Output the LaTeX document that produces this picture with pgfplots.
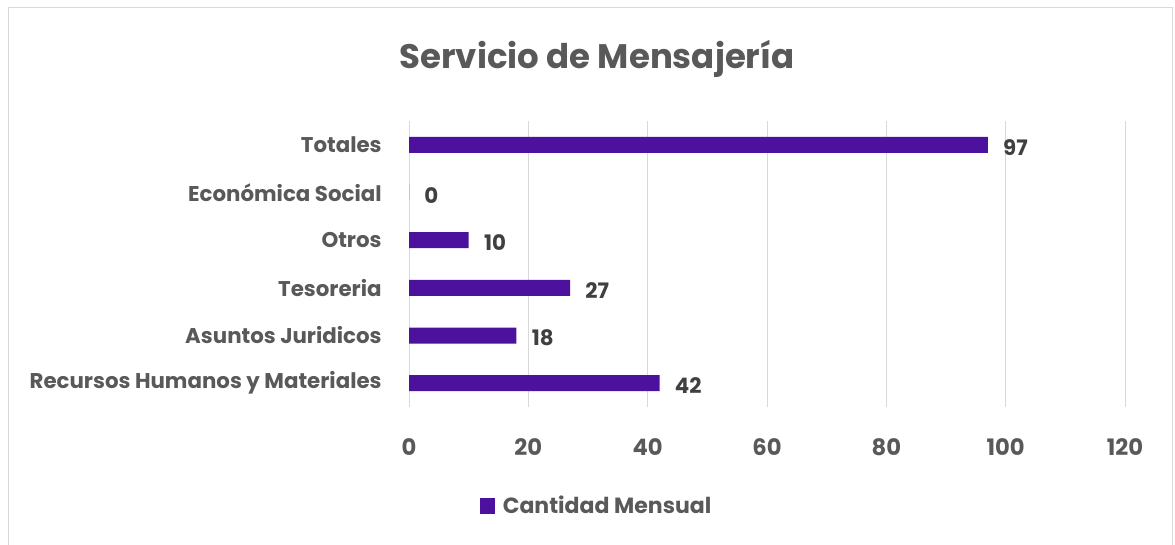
\documentclass[border=0pt]{standalone}
\usepackage{pgfplots}
\pgfplotsset{compat=1.18}
\usepackage{fontspec}
\setmainfont{Poppins}
\definecolor{barc}{HTML}{4C129E}
\definecolor{txt}{HTML}{595959}
\definecolor{lbl}{HTML}{404040}
\definecolor{gridc}{HTML}{D9D9D9}
\begin{document}
\begin{tikzpicture}
\useasboundingbox (0,0) rectangle (881.25pt,408pt);
\draw[gridc, line width=0.75pt] (6pt,-2pt) -- (6pt,402pt) -- (879pt,402pt) -- (879pt,-2pt);
\node[font=\fontsize{25.5}{30}\selectfont\bfseries, text=txt] at (447.75pt,363.5pt) {Servicio de Mensajería};
\begin{axis}[
  at={(306.75pt,102.75pt)}, anchor=south west,
  scale only axis, width=537pt, height=214.5pt,
  xbar, bar width=12pt,
  xmin=0, xmax=120, ymin=-0.5, ymax=5.5,
  xtick={0,20,...,120},
  ytick={0,...,5},
  yticklabels={Recursos Humanos y Materiales, Asuntos Juridicos, Tesoreria, Otros, Económica Social~, Totales},
  xmajorgrids, grid style={gridc, line width=0.75pt},
  axis line style={draw=none},
  major tick length=0pt,
  /pgf/number format/assume math mode=true,
  yticklabel style={font=\fontsize{16}{18}\selectfont\bfseries, text=txt, xshift=-17pt},
  xticklabel style={font=\fontsize{17}{19}\selectfont\bfseries, text=txt, yshift=-20pt},
  nodes near coords,
  nodes near coords style={anchor=west, xshift=8pt, yshift=-2pt, font=\fontsize{16}{18}\selectfont\bfseries, text=lbl},
  legend style={at={(0.2626,-0.346)}, anchor=center, draw=none, fill=none, font=\fontsize{16.5}{18}\selectfont\bfseries, text=txt},
  legend image code/.code={\fill[barc] (0pt,-6pt) rectangle (11pt,6pt);},
]
\addplot[fill=barc, draw=none] coordinates {(42,0) (18,1) (27,2) (10,3) (0,4) (97,5)};
\addlegendentry{\hspace{4pt}Cantidad Mensual}
\end{axis}
\end{tikzpicture}
\end{document}
